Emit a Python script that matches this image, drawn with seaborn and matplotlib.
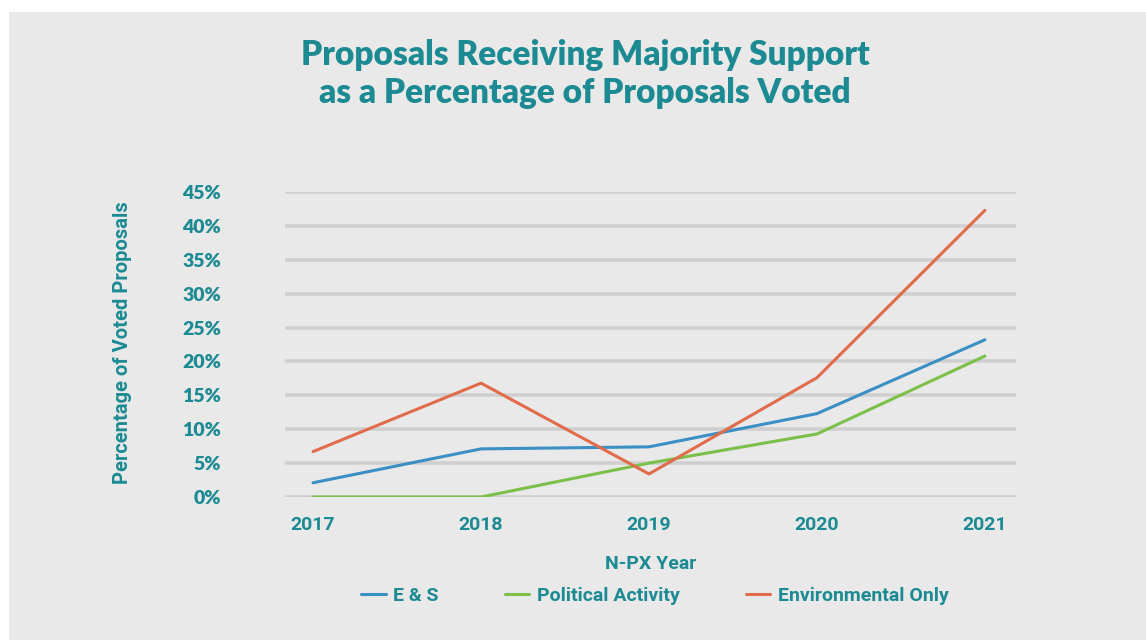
import numpy as np
import pandas as pd
import seaborn as sns
import matplotlib.pyplot as plt
from matplotlib.patches import Rectangle

# data
years = ["2017", "2018", "2019", "2020", "2021"]
es = [2.1, 7.1, 7.4, 12.3, 23.2]
political = [0.0, 0.0, 5.0, 9.3, 20.8]
environmental = [6.7, 16.8, 3.4, 17.6, 42.3]
series_names = ["E & S", "Political Activity", "Environmental Only"]
y_ticks = [0, 5, 10, 15, 20, 25, 30, 35, 40, 45]

teal = "#1b8a92"
bg = "#e9e9e9"
colors = ["#3a8fc4", "#7cc04a", "#e06c4c"]
narrow = ["Roboto", "DejaVu Sans"]

df = pd.DataFrame({
    "year": years * 3,
    "value": es + political + environmental,
    "series": np.repeat(series_names, len(years)),
})

sns.set_style("white")
plt.rcParams["font.family"] = ["Lato", "DejaVu Sans"]

fig = plt.figure(figsize=(11.46, 6.4), dpi=100, facecolor="white")
fig.add_artist(Rectangle((9 / 1146, 0), 1, 1 - 12 / 640, transform=fig.transFigure,
                         facecolor=bg, edgecolor="none", zorder=-10))
ax = fig.add_axes([285 / 1146, 1 - 497 / 640, (1016 - 285) / 1146, (497 - 192) / 640])
ax.set_facecolor("none")

sns.lineplot(data=df, x="year", y="value", hue="series", hue_order=series_names,
             palette=colors, linewidth=2.2, ax=ax, legend=False, zorder=3)

for t in y_ticks:
    ax.axhline(t, color="#cfcfcf", linewidth=2.6, zorder=1)

ax.set_xlim(-0.167, 4.185)
ax.set_ylim(0, 45)
ax.set_yticks(y_ticks)
ax.set_yticklabels([f"{t}%" for t in y_ticks])
for s in ax.spines.values():
    s.set_visible(False)
ax.tick_params(length=0)
ax.tick_params(axis="y", pad=46, labelsize=14, labelcolor=teal)
ax.tick_params(axis="x", pad=14, labelsize=14, labelcolor=teal)
for lab in ax.get_yticklabels():
    lab.set_fontweight("heavy")
for lab in ax.get_xticklabels():
    lab.set_fontweight("bold")
    lab.set_family(narrow)

ax.set_xlabel("N-PX Year", color=teal, fontsize=14, fontweight="bold",
              family=narrow, labelpad=15)
ax.set_ylabel("")
fig.text(122 / 1146, 1 - 343 / 640, "Percentage of Voted Proposals", rotation=90,
         color=teal, fontsize=14.5, fontweight="bold", ha="center", va="center",
         family=narrow)

fig.text(585 / 1146, 1 - 74 / 640,
         "Proposals Receiving Majority Support\nas a Percentage of Proposals Voted",
         color=teal, fontsize=24, fontweight="heavy", ha="center", va="center",
         linespacing=1.25)

handles = [plt.Line2D([], [], color=c, linewidth=2.2) for c in colors]
leg = fig.legend(handles, series_names, loc="center", bbox_to_anchor=(655 / 1146, 1 - 596 / 640),
                 ncol=3, frameon=False, handlelength=1.25, handletextpad=0.4, columnspacing=3.4,
                 prop={"family": narrow, "weight": "bold", "size": 14})
for t in leg.get_texts():
    t.set_color(teal)

fig.savefig("out.png", dpi=100, facecolor="white")
